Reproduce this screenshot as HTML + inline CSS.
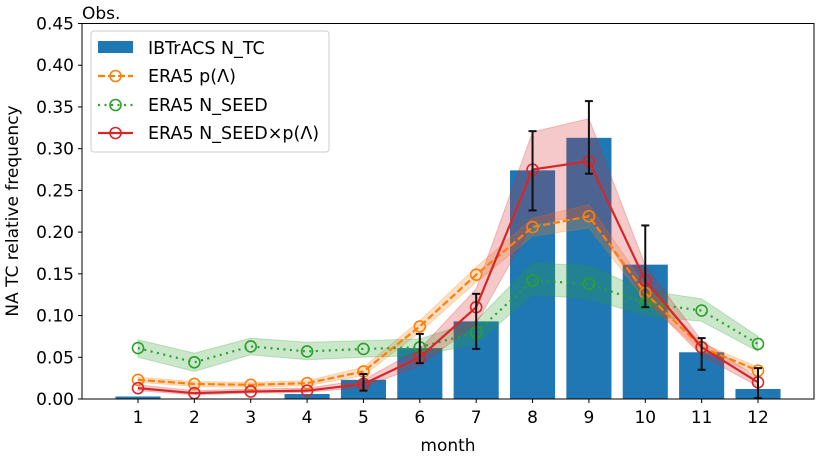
<!DOCTYPE html>
<html><head><meta charset="utf-8"><style>
body{margin:0;background:#fff;font-family:"Liberation Sans","DejaVu Sans",sans-serif}
svg text{font-family:"DejaVu Sans","Liberation Sans",sans-serif;fill:#000}
</style></head><body>
<svg id="chart" width="819" height="460" xmlns="http://www.w3.org/2000/svg"></svg>
<script>
const months=[1,2,3,4,5,6,7,8,9,10,11,12];
const obsBars=[0.003,0,0,0.006,0.023,0.061,0.093,0.274,0.313,0.161,0.056,0.012];
const errLow=[0,0,0,0,0.010,0.043,0.060,0.226,0.270,0.110,0.035,0.001];
const errHigh=[0,0,0,0,0.030,0.078,0.126,0.321,0.357,0.208,0.073,0.037];
const pLam=[0.023,0.018,0.017,0.019,0.033,0.087,0.149,0.206,0.219,0.127,0.062,0.034];
const pLamLo=[0.020,0.015,0.014,0.016,0.028,0.080,0.140,0.195,0.205,0.118,0.057,0.030];
const pLamHi=[0.026,0.021,0.020,0.022,0.038,0.094,0.158,0.217,0.233,0.136,0.067,0.038];
const seed=[0.061,0.044,0.063,0.057,0.060,0.062,0.080,0.142,0.138,0.115,0.106,0.066];
const seedLo=[0.050,0.033,0.053,0.047,0.050,0.052,0.066,0.125,0.120,0.100,0.093,0.057];
const seedHi=[0.071,0.055,0.073,0.068,0.070,0.072,0.094,0.163,0.160,0.130,0.120,0.075];
const prod=[0.013,0.007,0.009,0.010,0.018,0.050,0.110,0.275,0.285,0.142,0.062,0.020];
const prodLo=[0.010,0.005,0.007,0.008,0.014,0.040,0.090,0.210,0.220,0.120,0.052,0.015];
const prodHi=[0.017,0.010,0.012,0.013,0.023,0.060,0.132,0.320,0.336,0.160,0.070,0.025];
const yTicks=[0,0.05,0.10,0.15,0.20,0.25,0.30,0.35,0.40,0.45];

const L=82,R=814,T=23.5,B=399;
const X=m=>138+(m-1)*(620/11);
const Y=v=>B-(v/0.45)*(B-T);
const svg=document.getElementById('chart');
const NS='http://www.w3.org/2000/svg';
function mk(tag,attrs,parent){const e=document.createElementNS(NS,tag);for(const k in attrs)e.setAttribute(k,attrs[k]);(parent||svg).appendChild(e);return e;}

const bw=0.8*(620/11);
obsBars.forEach((v,i)=>{
  const r=mk('rect',{x:X(months[i])-bw/2,y:Y(v),width:bw,height:B-Y(v),fill:'#1f77b4'});
  
  
});
function band(lo,hi,color,name){
  let d='M'+months.map((m,i)=>X(m)+','+Y(hi[i])).join('L');
  d+='L'+months.map((m,i)=>[X(m),Y(lo[i])]).reverse().map(p=>p.join(',')).join('L')+'Z';
  const p=mk('path',{d:d,fill:color,'fill-opacity':0.25,stroke:color,'stroke-opacity':0.25});
  
  
}
function series(vals,color,dash,name){
  const p=mk('polyline',{points:months.map((m,i)=>X(m)+','+Y(vals[i])).join(' '),fill:'none',stroke:color,'stroke-width':2.2,'stroke-dasharray':dash});
  
  
  vals.forEach((v,i)=>{
    const c=mk('circle',{cx:X(months[i]),cy:Y(v),r:5.5,fill:'none',stroke:color,'stroke-width':1.6});
    
    
  });
}
band(pLamLo,pLamHi,'#ff7f0e','era5-plambda-band');
band(seedLo,seedHi,'#2ca02c','era5-nseed-band');
band(prodLo,prodHi,'#d62728','era5-product-band');
series(pLam,'#ff7f0e','7,3','era5-plambda');
series(seed,'#2ca02c','2,4.5','era5-nseed');
series(prod,'#d62728','none','era5-product');
months.forEach((m,i)=>{
  if(errHigh[i]<=0)return;
  const g=mk('g',{stroke:'#111','stroke-width':2});
  
  
  mk('line',{x1:X(m),x2:X(m),y1:Y(errLow[i]),y2:Y(errHigh[i])},g);
  mk('line',{x1:X(m)-4,x2:X(m)+4,y1:Y(errLow[i]),y2:Y(errLow[i])},g);
  mk('line',{x1:X(m)-4,x2:X(m)+4,y1:Y(errHigh[i]),y2:Y(errHigh[i])},g);
});
const fr=mk('rect',{x:L,y:T,width:R-L,height:B-T,fill:'none',stroke:'#000','stroke-width':1});


yTicks.forEach(v=>{
  mk('line',{x1:L-4,x2:L,y1:Y(v),y2:Y(v),stroke:'#000'});
  const t=mk('text',{x:L-8,y:Y(v)+6,'text-anchor':'end','font-size':17});
  t.textContent=v.toFixed(2);
  
  
});
months.forEach(m=>{
  mk('line',{x1:X(m),x2:X(m),y1:B,y2:B+4,stroke:'#000'});
  const t=mk('text',{x:X(m),y:B+24,'text-anchor':'middle','font-size':17});
  t.textContent=m;
  
  
});
</script>
<svg style="position:absolute;left:0;top:0" width="819" height="460">
<text x="448" y="451" text-anchor="middle" font-size="17">month</text>
<text transform="translate(18,211) rotate(-90)" text-anchor="middle" font-size="17">NA TC relative frequency</text>
<text x="82" y="19" font-size="17">Obs.</text>
<g>
<rect x="91" y="31" width="238" height="121" rx="3" fill="#fff" fill-opacity="0.8" stroke="#ccc"/>
<rect x="98" y="41" width="35" height="12" fill="#1f77b4"/>
<text x="148" y="54" font-size="17.5">IBTrACS N_TC</text>
<line x1="98" x2="133" y1="76" y2="76" stroke="#ff7f0e" stroke-width="2.2" stroke-dasharray="7,3"/><circle cx="115.5" cy="76" r="5.5" fill="none" stroke="#ff7f0e" stroke-width="1.6"/>
<text x="148" y="82" font-size="17.5">ERA5 p(Λ)</text>
<line x1="98" x2="133" y1="105" y2="105" stroke="#2ca02c" stroke-width="2.2" stroke-dasharray="2,4.5"/><circle cx="115.5" cy="105" r="5.5" fill="none" stroke="#2ca02c" stroke-width="1.6"/>
<text x="148" y="111" font-size="17.5">ERA5 N_SEED</text>
<line x1="98" x2="133" y1="133" y2="133" stroke="#d62728" stroke-width="2.2"/><circle cx="115.5" cy="133" r="5.5" fill="none" stroke="#d62728" stroke-width="1.6"/>
<text x="148" y="139" font-size="17.5">ERA5 N_SEED×p(Λ)</text>
</g>
</svg>
</body></html>
